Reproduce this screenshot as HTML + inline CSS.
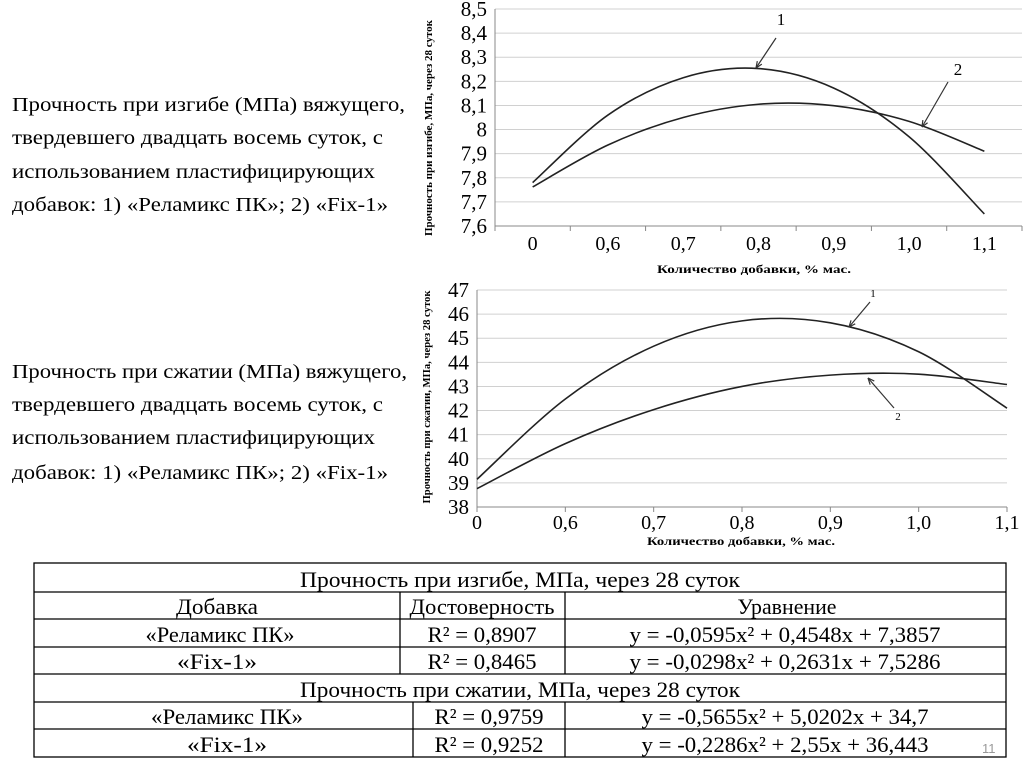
<!DOCTYPE html>
<html><head><meta charset="utf-8"><style>
html,body{margin:0;padding:0;background:#fff;}
svg{display:block;font-family:"Liberation Serif",serif;}
</style></head><body>
<svg id="s" width="1024" height="767" viewBox="0 0 1024 767" xmlns="http://www.w3.org/2000/svg">
<g font-size="20" fill="#000">
<text x="12" y="111" textLength="393" lengthAdjust="spacingAndGlyphs">Прочность при изгибе (МПа) вяжущего,</text>
<text x="12" y="144" textLength="371" lengthAdjust="spacingAndGlyphs">твердевшего двадцать восемь суток, с</text>
<text x="12" y="178" textLength="363" lengthAdjust="spacingAndGlyphs">использованием пластифицирующих</text>
<text x="12" y="211" textLength="376" lengthAdjust="spacingAndGlyphs">добавок: 1) «Реламикс ПК»; 2) «Fix-1»</text>
</g>
<g font-size="20" fill="#000">
<text x="12" y="378" textLength="395" lengthAdjust="spacingAndGlyphs">Прочность при сжатии (МПа) вяжущего,</text>
<text x="12" y="411" textLength="371" lengthAdjust="spacingAndGlyphs">твердевшего двадцать восемь суток, с</text>
<text x="12" y="444" textLength="363" lengthAdjust="spacingAndGlyphs">использованием пластифицирующих</text>
<text x="12" y="479" textLength="376" lengthAdjust="spacingAndGlyphs">добавок: 1) «Реламикс ПК»; 2) «Fix-1»</text>
</g>
<g id="c1"></g>
<g id="c2"></g>
<g stroke="#000" stroke-width="1.3" fill="none">
<rect x="34" y="563" width="972" height="194"/>
<line x1="34" y1="592" x2="1006" y2="592"/>
<line x1="34" y1="619" x2="1006" y2="619"/>
<line x1="34" y1="647" x2="1006" y2="647"/>
<line x1="34" y1="674" x2="1006" y2="674"/>
<line x1="34" y1="702" x2="1006" y2="702"/>
<line x1="34" y1="729" x2="1006" y2="729"/>
<line x1="400" y1="592" x2="400" y2="674"/>
<line x1="565" y1="592" x2="565" y2="674"/>
<line x1="413" y1="702" x2="413" y2="757"/>
<line x1="565" y1="702" x2="565" y2="757"/>
</g>
<g font-size="22" fill="#000" text-anchor="middle" lengthAdjust="spacingAndGlyphs">
<text x="520" y="587" textLength="440" lengthAdjust="spacingAndGlyphs">Прочность при изгибе, МПа, через 28 суток</text>
<text x="217" y="614" textLength="82" lengthAdjust="spacingAndGlyphs">Добавка</text>
<text x="482" y="614" textLength="145" lengthAdjust="spacingAndGlyphs">Достоверность</text>
<text x="787" y="614" textLength="99" lengthAdjust="spacingAndGlyphs">Уравнение</text>
<text x="220" y="642" textLength="149" lengthAdjust="spacingAndGlyphs">«Реламикс ПК»</text>
<text x="482" y="642" textLength="109" lengthAdjust="spacingAndGlyphs">R² = 0,8907</text>
<text x="785" y="642" textLength="311" lengthAdjust="spacingAndGlyphs">y = -0,0595x² + 0,4548x + 7,3857</text>
<text x="217" y="669" textLength="80" lengthAdjust="spacingAndGlyphs">«Fix-1»</text>
<text x="482" y="669" textLength="109" lengthAdjust="spacingAndGlyphs">R² = 0,8465</text>
<text x="785" y="669" textLength="311" lengthAdjust="spacingAndGlyphs">y = -0,0298x² + 0,2631x + 7,5286</text>
<text x="520" y="697" textLength="440" lengthAdjust="spacingAndGlyphs">Прочность при сжатии, МПа, через 28 суток</text>
<text x="227" y="724" textLength="152" lengthAdjust="spacingAndGlyphs">«Реламикс ПК»</text>
<text x="489" y="724" textLength="109" lengthAdjust="spacingAndGlyphs">R² = 0,9759</text>
<text x="785" y="724" textLength="287" lengthAdjust="spacingAndGlyphs">y = -0,5655x² + 5,0202x + 34,7</text>
<text x="227" y="752" textLength="80" lengthAdjust="spacingAndGlyphs">«Fix-1»</text>
<text x="489" y="752" textLength="109" lengthAdjust="spacingAndGlyphs">R² = 0,9252</text>
<text x="785" y="752" textLength="287" lengthAdjust="spacingAndGlyphs">y = -0,2286x² + 2,55x + 36,443</text>
</g>
<text x="982" y="753" font-family="Liberation Sans,sans-serif" font-size="13" fill="#999">11</text>
</svg>
<script>
const categories = ["0","0,6","0,7","0,8","0,9","1,0","1,1"];
const flexReamix = [7.78, 8.06, 8.215, 8.253, 8.172, 7.97, 7.65];
const flexFix = [7.762, 7.936, 8.05, 8.105, 8.099, 8.034, 7.91];
const flexTicks = ["7,6","7,7","7,8","7,9","8","8,1","8,2","8,3","8,4","8,5"];
const compReamix = [39.15, 42.48, 44.67, 45.72, 45.64, 44.44, 42.1];
const compFix = [38.76, 40.63, 42.04, 43.0, 43.47, 43.51, 43.08];
const compTicks = ["38","39","40","41","42","43","44","45","46","47"];

const NS="http://www.w3.org/2000/svg";
function mk(p,tag,attrs,txt){const e=document.createElementNS(NS,tag);for(const k in attrs)e.setAttribute(k,attrs[k]);if(txt!==undefined)e.textContent=txt;p.appendChild(e);return e;}
function smooth(pts){let d="M"+pts[0][0]+","+pts[0][1];for(let i=0;i<pts.length-1;i++){const p0=pts[Math.max(0,i-1)],p1=pts[i],p2=pts[i+1],p3=pts[Math.min(pts.length-1,i+2)];const c1=[p1[0]+(p2[0]-p0[0])/6,p1[1]+(p2[1]-p0[1])/6],c2=[p2[0]-(p3[0]-p1[0])/6,p2[1]-(p3[1]-p1[1])/6];d+=" C"+c1+" "+c2+" "+p2;}return d;}
function chart(g,o){
  const ymin=o.ymin,ymax=o.ymax;
  const Y=v=>o.bottom-(v-ymin)/(ymax-ymin)*(o.bottom-o.top);
  const n=categories.length;
  const X=i=>o.between?o.left+(o.right-o.left)*(i+0.5)/n:o.left+(o.right-o.left)*i/(n-1);
  o.ticks.forEach((t,i)=>{const v=ymin+(ymax-ymin)*i/(o.ticks.length-1);const y=Y(v);
    const gl=mk(g,"line",{x1:o.left,x2:o.right,y1:y,y2:y,stroke:i==0?"#888":"#d0d0d0","stroke-width":1});
    
    
    const tl=mk(g,"text",{x:o.left-8,y:y+7,"text-anchor":"end","font-size":21},t);
    
    });
  mk(g,"line",{x1:o.left,x2:o.left,y1:o.top,y2:o.bottom,stroke:"#888"});
  for(let i=0;i<=(o.between?n:n-1);i++){const x=o.between?o.left+(o.right-o.left)*i/n:X(i);mk(g,"line",{x1:x,x2:x,y1:o.bottom,y2:o.bottom+5,stroke:"#888"});}
  categories.forEach((c,i)=>{const t=mk(g,"text",{x:X(i),y:o.xlabY,"text-anchor":"middle","font-size":20},c);
    
    });
  [o.s1,o.s2].forEach((s,k)=>{const p=mk(g,"path",{d:smooth(s.map((v,i)=>[X(i),Y(v)])),fill:"none",stroke:"#222","stroke-width":1.6});
    
    });
  const xt=mk(g,"text",{x:o.xtX,y:o.xtY,"text-anchor":"middle","font-size":12,"font-weight":"bold",textLength:o.xtL,lengthAdjust:"spacingAndGlyphs"},"Количество добавки, % мас.");
  
  
  const yt=mk(g,"text",{x:0,y:0,"text-anchor":"middle","font-size":11,"font-weight":"bold",textLength:o.ytL,lengthAdjust:"spacingAndGlyphs",transform:"translate("+o.ytX+","+o.ytY+") rotate(-90)"},"Прочность при "+o.yword+", МПа, через 28 суток");
  
  
  o.anns.forEach(a=>{const t=mk(g,"text",{x:a[0],y:a[1],"text-anchor":"middle","font-size":a[6]},a[7]);
    
    
    const l=mk(g,"line",{x1:a[2],y1:a[3],x2:a[4],y2:a[5],stroke:"#333","stroke-width":1.2});
    
    
    const ang=Math.atan2(a[5]-a[3],a[4]-a[2]);const L=7;
    mk(g,"path",{d:"M"+a[4]+","+a[5]+" L"+(a[4]-L*Math.cos(ang-0.4))+","+(a[5]-L*Math.sin(ang-0.4))+" M"+a[4]+","+a[5]+" L"+(a[4]-L*Math.cos(ang+0.4))+","+(a[5]-L*Math.sin(ang+0.4)),stroke:"#333",fill:"none","stroke-width":1.2});});
}
chart(document.getElementById("c1"),{left:495,right:1022,top:9,bottom:226,ymin:7.6,ymax:8.5,between:true,ticks:flexTicks,s1:flexReamix,s2:flexFix,xlabY:250,xtX:754,xtY:273,xtL:194,ytX:432,ytY:128,ytL:216,yword:"изгибе",
  anns:[[781,25,776,38,756,68,17,"1"],[958,75,948,82,922,127,17,"2"]]});
chart(document.getElementById("c2"),{left:477,right:1007,top:290,bottom:507,ymin:38,ymax:47,between:false,ticks:compTicks,s1:compReamix,s2:compFix,xlabY:529,xtX:741,xtY:545,xtL:188,ytX:430,ytY:397,ytL:213,yword:"сжатии",
  anns:[[873,297,870,302,849,327,11,"1"],[898,420,894,408,868,378,11,"2"]]});
</script>
</body></html>
